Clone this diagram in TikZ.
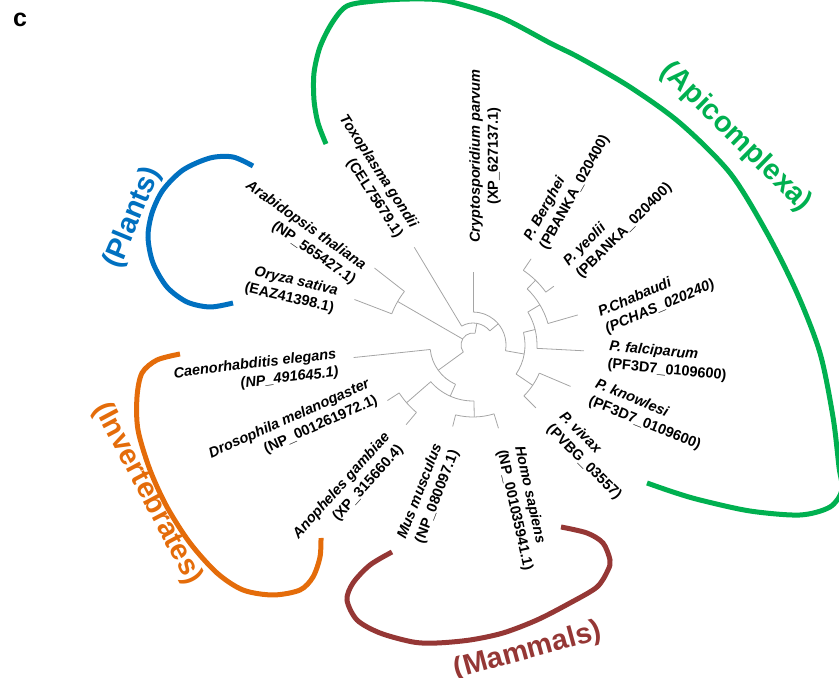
\documentclass[tikz,border=0pt]{standalone}
\usepackage{fontspec}
\setmainfont{Liberation Sans}
\usetikzlibrary{calc}
\definecolor{apicolor}{RGB}{0,176,80}
\definecolor{plantcolor}{RGB}{0,112,192}
\definecolor{invcolor}{RGB}{228,108,10}
\definecolor{mamcolor}{RGB}{149,55,53}
\definecolor{treegray}{RGB}{165,165,165}
\newcommand{\brline}[3]{\draw[branch] ($(ctr)+(#1:#2)$) -- ($(ctr)+(#1:#3)$);}
\newcommand{\brarc}[3]{\draw[branch] ($(ctr)+(#1:#3)$) arc[start angle=#1, end angle=#2, radius=#3];}

\begin{document}
\begin{tikzpicture}[
    x=1pt, y=1pt,
    leafl/.style={inner sep=0pt, anchor=west, align=left, font=\fontsize{14.5}{18}\selectfont\bfseries},
    leafr/.style={inner sep=0pt, anchor=east, align=right, font=\fontsize{14.5}{18}\selectfont\bfseries},
    leafc/.style={inner sep=0pt, anchor=center, align=center, font=\fontsize{14.5}{18}\selectfont\bfseries},
    grouplab/.style={inner sep=0pt, font=\fontsize{29}{32}\selectfont\bfseries},
    grouparc/.style={line width=5pt},
    branch/.style={draw=treegray, line width=0.8pt}
]
\clip (0,0) rectangle (839,678);
\coordinate (ctr) at (473,333);

\node[font=\fontsize{25}{28}\selectfont\bfseries, inner sep=0pt] (panel) at (20,658) {c};

% tree
\brline{90}{33}{73}
\brarc{-10}{90}{33}
\brline{-10}{33}{52}
\brarc{-34}{14}{52}
\brline{-34}{52}{72}
\brarc{-45}{-23}{72}
\brline{-45}{72}{89}
\brline{-23}{72}{106}
\brline{14}{52}{64}
\brarc{-3}{31}{64}
\brline{-3}{64}{111}
\brline{31}{64}{78}
\brarc{16}{46}{78}
\brline{16}{78}{109}
\brline{46}{78}{90}
\brarc{36}{56}{90}
\brline{36}{90}{100}
\brline{56}{90}{104}
\brline{40}{22}{33}
\brarc{40}{121}{22}
\brline{121}{22}{114}
\brline{80}{12}{22}
\brline{150}{12}{87}
\brarc{142}{159}{87}
\brline{142}{87}{125}
\brline{159}{87}{127}
\brline{216}{12}{43}
\brarc{186}{246}{43}
\brline{186}{43}{120}
\brline{246}{43}{56}
\brarc{221}{271}{56}
\brline{221}{56}{88}
\brarc{213}{230}{88}
\brline{213}{88}{102}
\brline{230}{88}{104}
\brline{271}{56}{72}
\brarc{256}{287}{72}
\brline{256}{72}{84}
\brline{287}{72}{87}
\brarc{80}{216}{12}

% leaves
\node[leafr, rotate=-57] (toxo) at (406.7,446.3) {\textit{Toxoplasma gondii}\\(CEL75679.1)};
\node[leafc, rotate=90] (crypto) at (485,522) {\textit{Cryptosporidium parvum}\\(XP\_627137.1)};
\node[leafl, rotate=61] (berghei) at (535.8,433.8) {\textit{P. Berghei}\\(PBANKA\_020400)};
\node[leafl, rotate=45] (yoelii) at (572.5,408) {\textit{P. yeolii}\\(PBANKA\_020400)};
\node[leafl, rotate=23] (chabaudi) at (602.5,356.3) {\textit{P.Chabaudi}\\\textit{(PCHAS\_020240)}};
\node[leafl, rotate=-5.5] (falci) at (608.3,322.2) {\textit{P. falciparum}\\(PF3D7\_0109600)};
\node[leafl, rotate=-22] (knowl) at (592.5,285.5) {\textit{P. knowlesi}\\(PF3D7\_0109600)};
\node[leafl, rotate=-45] (vivax) at (555,257.2) {\textit{P. vivax}\\(PVBG\_03557)};
\node[leafl, rotate=-77.5] (homo) at (510,229.7) {\textit{Homo sapiens}\\(NP\_001035941.1)};
\node[leafr, rotate=69] (mus) at (446.7,230.5) {\textit{Mus musculus}\\(NP\_080097.1)};
\node[leafr, rotate=48] (anoph) at (394.2,237.2) {\textit{Anopheles gambiae}\\(XP\_315660.4)};
\node[leafr, rotate=24] (droso) at (373.3,286.3) {\textit{Drosophila melanogaster}\\(NP\_001261972.1)};
\node[leafr, rotate=7] (caeno) at (337.5,314.7) {\textit{Caenorhabditis elegans}\\\textit{(NP\_491645.1)}};
\node[leafr, rotate=-13] (oryza) at (335.8,378) {\textit{Oryza sativa}\\(EAZ41398.1)};
\node[leafr, rotate=-35] (arab) at (359.2,403.8) {\textit{Arabidopsis thaliana}\\(NP\_565427.1)};

% groups
\draw[grouparc, apicolor] plot[smooth] coordinates {(326,534) (318,555) (314,578) (314,605) (320,631) (332,655) (347,672) (375,677) (410,679) (447,677) (500,661) (550,635) (580,620) (630,591) (680,555) (730,505) (767,445) (797,385) (820,325) (833,261) (839,211) (842,188) (830,171) (800,163) (750,167) (700,178) (673,186) (647,195)};
\draw[grouparc, plantcolor] plot[smooth] coordinates {(253,512) (233,521) (210,520) (183,508) (163,488) (152,465) (148,441) (153,415) (167,391) (187,376) (210,371) (233,375)};
\draw[grouparc, invcolor] plot[smooth] coordinates {(180,324) (157,318) (142,305) (137,281) (138,248) (150,208) (167,171) (190,135) (217,105) (243,88) (273,83) (300,88) (313,101) (320,121) (321,140)};
\draw[grouparc, mamcolor] plot[smooth] coordinates {(392,126) (370,113) (353,95) (347,78) (357,58) (380,45) (413,36) (437,35) (470,38) (503,45) (537,58) (570,75) (597,91) (608,108) (610,118) (603,135) (587,145) (561,151)};

\node[grouplab, text=apicolor, rotate=-44.6] (apilab) at (736,541) {(Apicomplexa)};
\node[grouplab, text=plantcolor, rotate=67.5] (plantlab) at (133,460) {(Plants)};
\node[grouplab, text=invcolor, rotate=-62] (invlab) at (147.5,184.5) {(Invertebrates)};
\node[grouplab, text=mamcolor, rotate=15.3] (mamlab) at (528,27) {(Mammals)};
\end{tikzpicture}
\end{document}
